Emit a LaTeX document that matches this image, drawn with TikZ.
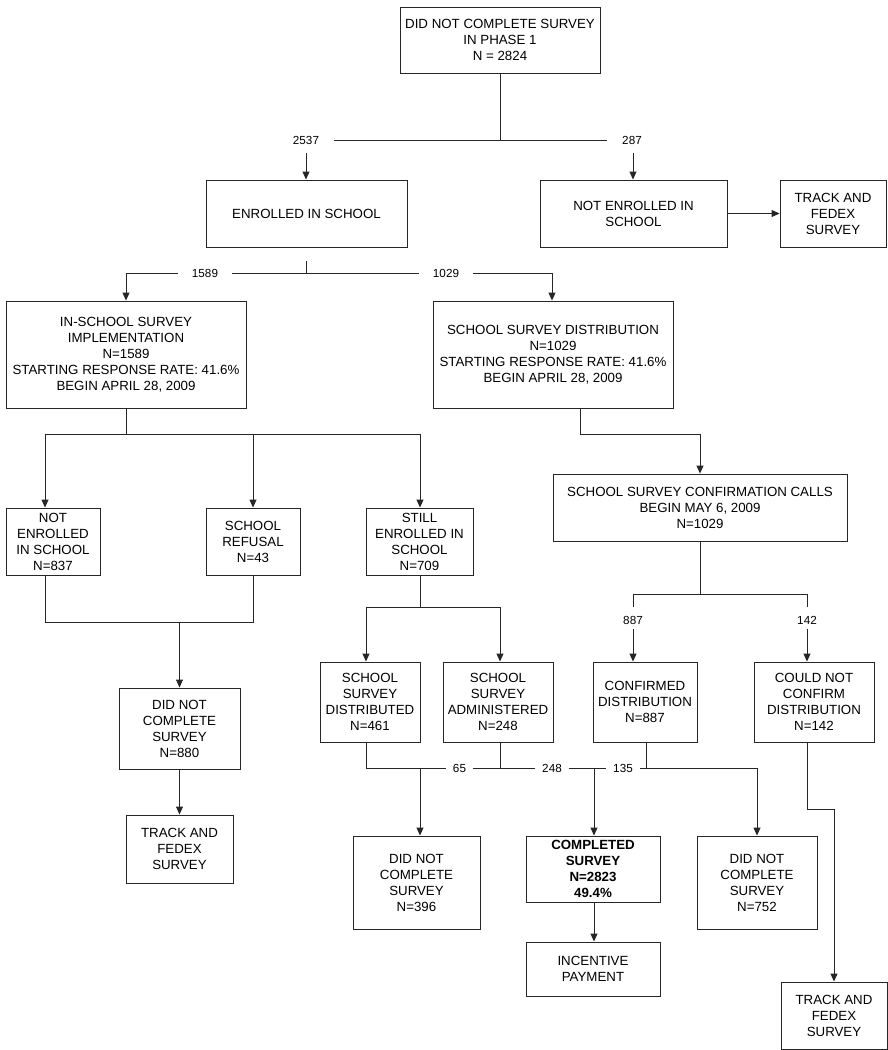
\documentclass[tikz,border=0pt]{standalone}
\usepackage{fontspec}
\setmainfont{Liberation Sans}
\usetikzlibrary{arrows.meta}
\begin{document}
\begin{tikzpicture}[x=1pt,y=-1pt,
  box/.style={draw=black!85, line width=0.9pt, align=center, inner sep=0pt,
    font=\fontsize{13.3}{16}\selectfont, text=black},
  lbl/.style={fill=white, inner ysep=1pt, inner xsep=7pt, font=\fontsize{11.7}{14}\selectfont},
  conn/.style={draw=black!85, line width=0.9pt},
  arr/.style={conn, -{Triangle[length=8pt,width=7pt]}}]
\useasboundingbox (0,0) rectangle (888,1050);
% boxes
\node[box, minimum width=200pt, minimum height=66pt] (top) at (500,40) {DID NOT COMPLETE SURVEY\\IN PHASE 1\\N = 2824};
\node[box, minimum width=201pt, minimum height=67pt] (enrolled) at (306.5,213.5) {ENROLLED IN SCHOOL};
\node[box, minimum width=187pt, minimum height=67pt] (notenr) at (633.5,213.5) {NOT ENROLLED IN\\SCHOOL};
\node[box, minimum width=106pt, minimum height=67pt] (track1) at (833,213.5) {TRACK AND\\FEDEX\\SURVEY};
\node[box, minimum width=240pt, minimum height=107pt] (inschool) at (126,354.5) {IN-SCHOOL SURVEY\\IMPLEMENTATION\\N=1589\\STARTING RESPONSE RATE: 41.6\%\\BEGIN APRIL 28, 2009};
\node[box, minimum width=240pt, minimum height=107pt] (distrib) at (553,354.5) {SCHOOL SURVEY DISTRIBUTION\\N=1029\\STARTING RESPONSE RATE: 41.6\%\\BEGIN APRIL 28, 2009};
\node[box, minimum width=94pt, minimum height=67pt] (notenr2) at (53,541.5) {NOT\\ENROLLED\\IN SCHOOL\\N=837};
\node[box, minimum width=94pt, minimum height=67pt] (refusal) at (253,541.5) {SCHOOL\\REFUSAL\\N=43};
\node[box, minimum width=107pt, minimum height=67pt] (still) at (419.5,541.5) {STILL\\ENROLLED IN\\SCHOOL\\N=709};
\node[box, minimum width=294pt, minimum height=67pt] (calls) at (700,507.5) {SCHOOL SURVEY CONFIRMATION CALLS\\BEGIN MAY 6, 2009\\N=1029};
\node[box, minimum width=121pt, minimum height=81pt] (dnc880) at (179.5,728.5) {DID NOT\\COMPLETE\\SURVEY\\N=880};
\node[box, minimum width=107pt, minimum height=68pt] (track2) at (179.5,849) {TRACK AND\\FEDEX\\SURVEY};
\node[box, minimum width=100pt, minimum height=80pt] (distd) at (370,702) {SCHOOL\\SURVEY\\DISTRIBUTED\\N=461};
\node[box, minimum width=110pt, minimum height=80pt] (admin) at (498,702) {SCHOOL\\SURVEY\\ADMINISTERED\\N=248};
\node[box, minimum width=104pt, minimum height=80pt] (confd) at (645,702) {CONFIRMED\\DISTRIBUTION\\N=887};
\node[box, minimum width=120pt, minimum height=80pt] (couldnot) at (814,702) {COULD NOT\\CONFIRM\\DISTRIBUTION\\N=142};
\node[box, minimum width=127pt, minimum height=93pt] (dnc396) at (416.5,882.5) {DID NOT\\COMPLETE\\SURVEY\\N=396};
\node[box, minimum width=134pt, minimum height=66pt, font=\fontsize{13.3}{16}\selectfont\bfseries] (completed) at (593,869) {COMPLETED\\SURVEY\\N=2823\\49.4\%};
\node[box, minimum width=120pt, minimum height=93pt] (dnc752) at (757,882.5) {DID NOT\\COMPLETE\\SURVEY\\N=752};
\node[box, minimum width=134pt, minimum height=54pt] (incentive) at (593,969) {INCENTIVE\\PAYMENT};
\node[box, minimum width=106pt, minimum height=67pt] (track3) at (834,1015.5) {TRACK AND\\FEDEX\\SURVEY};

% row 1
\coordinate (h0) at (500,140);
\coordinate (hl) at (334,140);
\coordinate (hr) at (607,140);
\draw[conn] (top.south) -- (h0);
\draw[conn] (hl) -- (hr);
\node[lbl, fill=none] (l2537) at (306,140) {2537};
\node[lbl, fill=none] (l287) at (632,140) {287};
\coordinate (a1) at (306,153);
\coordinate (a2) at (633,153);
\draw[arr] (a1) -- (a1 |- enrolled.north);
\draw[arr] (a2) -- (a2 |- notenr.north);
\draw[arr] (notenr.east) -- (track1.west);

% row 2
\coordinate (b0) at (306,261);
\coordinate (b1) at (126,273);
\coordinate (b2) at (552,273);
\draw[conn] (b0) -- (b0 |- b1);
\draw[conn] (b1) -- (b2);
\node[lbl, inner xsep=14pt] (l1589) at (205,273) {1589};
\node[lbl, inner xsep=14pt] (l1029) at (446,273) {1029};
\draw[arr] (b1) -- (b1 |- inschool.north);
\draw[arr] (b2) -- (b2 |- distrib.north);

% in-school split
\coordinate (c0) at (126,434);
\coordinate (c1) at (45,434);
\coordinate (c2) at (253,434);
\coordinate (c3) at (420,434);
\draw[conn] (inschool.south) -- (c0);
\draw[conn] (c1) -- (c3);
\draw[arr] (c1) -- (c1 |- notenr2.north);
\draw[arr] (c2) -- (c2 |- refusal.north);
\draw[arr] (c3) -- (c3 |- still.north);

% distribution -> calls
\coordinate (d1) at (580,434);
\draw[arr] (d1 |- distrib.south) -- (d1) -| (calls.north);

% calls split
\coordinate (k0) at (700,594);
\coordinate (k1) at (633,594);
\coordinate (k2) at (807,594);
\draw[conn] (calls.south) -- (k0);
\draw[conn] (k1 |- 0,607) -- (k1) -- (k2) -- (k2 |- 0,607);
\node[lbl, fill=none] (l887) at (633,620) {887};
\node[lbl, fill=none] (l142) at (807,620) {142};
\coordinate (k3) at (633,629);
\coordinate (k4) at (807,629);
\draw[arr] (k3) -- (k3 |- confd.north);
\draw[arr] (k4) -- (k4 |- couldnot.north);

% left bottom merge
\coordinate (e1) at (45,622);
\coordinate (e2) at (253,622);
\coordinate (e0) at (179.5,622);
\draw[conn] (e1 |- notenr2.south) -- (e1) -- (e2) -- (e2 |- refusal.south);
\draw[arr] (e0) -- (dnc880.north);
\draw[arr] (dnc880.south) -- (track2.north);

% still enrolled split
\coordinate (s0) at (420,607);
\coordinate (s1) at (366,607);
\coordinate (s2) at (500,607);
\draw[conn] (still.south -| s0) -- (s0);
\draw[conn] (s1) -- (s2);
\draw[arr] (s1) -- (s1 |- distd.north);
\draw[arr] (s2) -- (s2 |- admin.north);

% bottom merge
\coordinate (f1) at (366,768);
\coordinate (f2) at (500,768);
\coordinate (f3) at (646,768);
\coordinate (f4) at (757,768);
\coordinate (g1) at (420,768);
\coordinate (g2) at (594,768);
\draw[conn] (f1 |- distd.south) -- (f1) -- (f4);
\draw[conn] (f2 |- admin.south) -- (f2);
\draw[conn] (f3 |- confd.south) -- (f3);
\node[lbl] (l65) at (459.5,768) {65};
\node[lbl] (l248) at (552,768) {248};
\node[lbl] (l135) at (623,768) {135};
\draw[arr] (g1) -- (g1 |- dnc396.north);
\draw[arr] (g2) -- (g2 |- completed.north);
\draw[arr] (f4) -- (dnc752.north);
\draw[arr] (completed.south -| g2) -- (g2 |- incentive.north);

% could not confirm -> track
\coordinate (m1) at (807,809);
\coordinate (m2) at (834,809);
\draw[arr] (m1 |- couldnot.south) -- (m1) -- (m2) -- (track3.north);
\end{tikzpicture}
\end{document}
